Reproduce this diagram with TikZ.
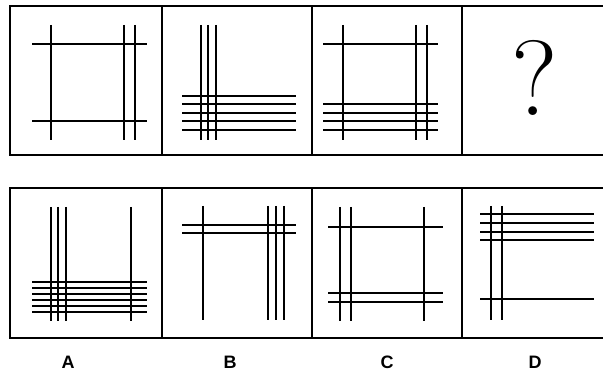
\documentclass[tikz,border=0pt]{standalone}
\usepackage{fontspec}
\setsansfont{Liberation Sans}
\usepackage{tikz}
\usetikzlibrary{positioning}

\tikzset{
  frame/.style={line width=2.4pt},
  bar/.style={line width=2.9pt},
  optlabel/.style={font=\sffamily\bfseries\fontsize{18}{20}\selectfont}
}

\begin{document}
\begin{tikzpicture}[x=1pt,y=-1pt]
  \useasboundingbox (0,0) rectangle (603,374);
  % frames
  \draw[frame] (10,6) rectangle (620,155);
  \draw[frame] (10,188) rectangle (620,338);
  \foreach \xd in {162,312,462} {
    \draw[frame] (\xd,6) -- (\xd,155);
    \draw[frame] (\xd,188) -- (\xd,338);
  }
  % row 1, figure 1
  \foreach \xv in {51,124,135} \draw[bar] (\xv,25) -- (\xv,140);
  \foreach \yh in {44,121} \draw[bar] (32,\yh) -- (147,\yh);
  % row 1, figure 2
  \foreach \xv in {201,208,216} \draw[bar] (\xv,25) -- (\xv,140);
  \foreach \yh in {96,104,113,121,130} \draw[bar] (182,\yh) -- (296,\yh);
  % row 1, figure 3
  \foreach \xv in {343,416,427} \draw[bar] (\xv,25) -- (\xv,140);
  \foreach \yh in {44,104,113,121,130} \draw[bar] (323,\yh) -- (438,\yh);
  % row 1, figure 4
  \node (qmark) at (535,78) {\fontsize{107}{110}\selectfont\addfontfeature{FakeBold=1.8}?};
  % option A
  \foreach \xv in {51,58,66,131} \draw[bar] (\xv,207) -- (\xv,321);
  \foreach \yh in {282,288,294,300,306,312} \draw[bar] (32,\yh) -- (147,\yh);
  % option B
  \foreach \xv in {203,268,276,284} \draw[bar] (\xv,206) -- (\xv,320);
  \foreach \yh in {225,233} \draw[bar] (182,\yh) -- (296,\yh);
  % option C
  \foreach \xv in {340,351,424} \draw[bar] (\xv,207) -- (\xv,321);
  \foreach \yh in {227,293,302} \draw[bar] (328,\yh) -- (443,\yh);
  % option D
  \foreach \xv in {491,502} \draw[bar] (\xv,206) -- (\xv,320);
  \foreach \yh in {214,223,232,240,299} \draw[bar] (480,\yh) -- (594,\yh);
  % labels
  \node[optlabel] (labA) at (68,362) {A};
  \node[optlabel] (labB) at (230,362) {B};
  \node[optlabel] (labC) at (387,362) {C};
  \node[optlabel] (labD) at (535,362) {D};
\end{tikzpicture}
\end{document}
